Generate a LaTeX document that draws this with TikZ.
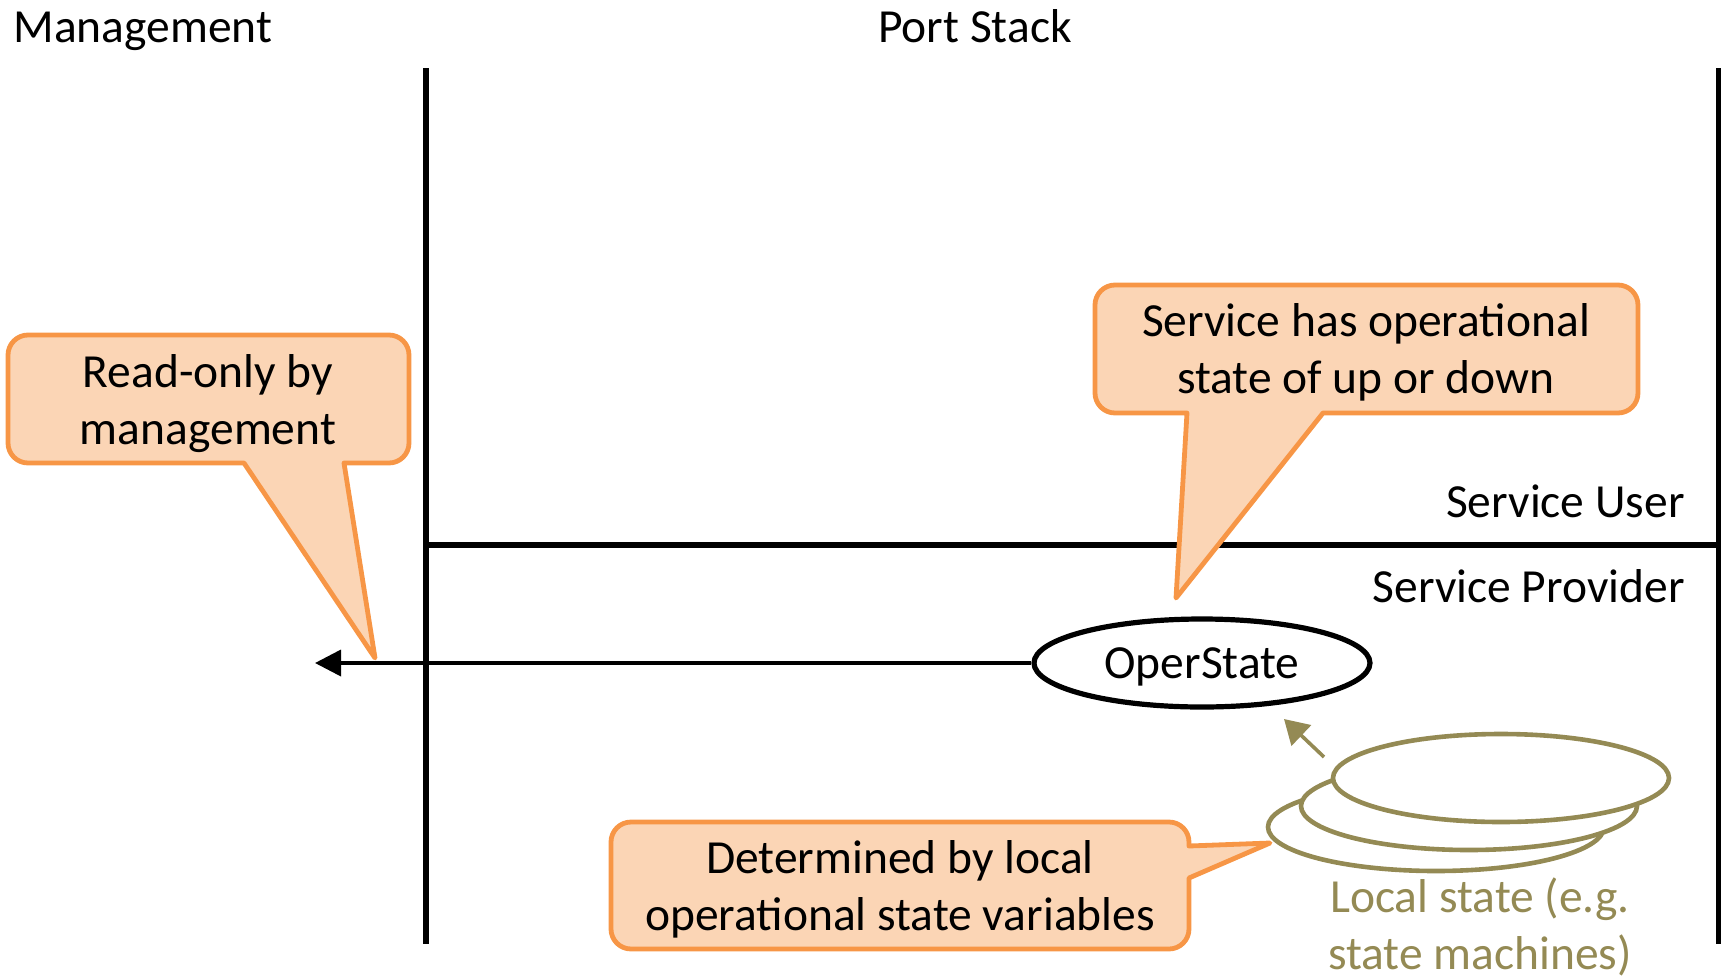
\documentclass[tikz,border=0pt]{standalone}
\usepackage{fontspec}
\setmainfont{Carlito}
\usetikzlibrary{arrows.meta,shapes.geometric}
\definecolor{cofill}{HTML}{FBD5B5}
\definecolor{coline}{HTML}{F79646}
\definecolor{statecol}{HTML}{948A54}
\newcommand\bigtxt{\fontsize{23.75}{28.5}\selectfont}
\tikzset{
  lbl/.style={font=\bigtxt, inner sep=0pt},
  calloutbox/.style={draw=coline, fill=cofill, line width=2.4pt, line join=round},
  callouttext/.style={font=\bigtxt, align=center, inner sep=0pt},
  divider/.style={line width=2.8pt},
  sepline/.style={line width=3.4pt},
  flowarrow/.style={line width=1.8pt, -{Triangle[length=13pt,width=13pt]}},
  statearrow/.style={draw=statecol, line width=1.8pt, -{Triangle[length=12pt,width=14pt]}},
  operell/.style={ellipse, draw, line width=2.6pt, fill=white, minimum width=168pt, minimum height=44pt, inner sep=0pt, font=\bigtxt},
  stateell/.style={ellipse, draw=statecol, line width=2.3pt, fill=white, minimum width=168pt, minimum height=44pt, inner sep=0pt},
}
\begin{document}
\begin{tikzpicture}[x=0.5pt,y=-0.5pt]
\useasboundingbox (0,0) rectangle (1721,976);

% headings
\node[lbl, anchor=base west] (mgmt) at (13,42) {Management};
\node[lbl, anchor=base] (portstack) at (975,42) {Port Stack};

% structure lines
\coordinate (ltop) at (426,68);
\coordinate (lbot) at (426,944);
\coordinate (rtop) at (1719,68);
\coordinate (rbot) at (1719,944);
\coordinate (sepl) at (426,545);
\coordinate (sepr) at (1721,545);
\draw[divider] (ltop) -- (lbot);
\draw[divider] (rtop) -- (rbot);
\draw[sepline] (sepl) -- (sepr);

\node[lbl, anchor=base east] (suser) at (1685,517) {Service User};
\node[lbl, anchor=base east] (sprov) at (1685,602) {Service Provider};

% OperState
\node[operell, text depth=0pt] (oper) at (1202,663) {OperState};
\coordinate (mgmtend) at (315,663);
\draw[flowarrow] (oper.west) -- (mgmtend);

% local state stack
\node[stateell] (st3) at (1436,827) {};
\node[stateell] (st2) at (1469,806) {};
\node[stateell] (st1) at (1501,778) {};
\coordinate (sa) at (1324,757);
\coordinate (sb) at (1284,719);
\draw[statearrow] (sa) -- (sb);
\node[callouttext, text=statecol] (localtxt) at (1480,927) {Local state (e.g.\\state machines)};

% callout 1
\coordinate (tip1) at (375,658);
\draw[calloutbox] (tip1) -- (344,463) [rounded corners=10pt] -- (409,463) -- (409,335) -- (8,335) -- (8,463) [sharp corners] -- (244,463) -- cycle;
\node[callouttext] (c1) at (208,404) {Read-only by\\management};

% callout 2
\coordinate (tip2) at (1176,598);
\draw[calloutbox] (tip2) -- (1323,413) [rounded corners=10pt] -- (1638,413) -- (1638,285) -- (1095,285) -- (1095,413) [sharp corners] -- (1187,413) -- cycle;
\node[callouttext] (c2) at (1366,352) {Service has operational\\state of up or down};

% callout 3
\coordinate (tip3) at (1270,843);
\draw[calloutbox] (tip3) -- (1189,878) [rounded corners=10pt] -- (1189,949) -- (611,949) -- (611,822) -- (1189,822) [sharp corners] -- (1189,846) -- cycle;
\node[callouttext] (c3) at (900,889) {Determined by local\\operational state variables};
\end{tikzpicture}
\end{document}
